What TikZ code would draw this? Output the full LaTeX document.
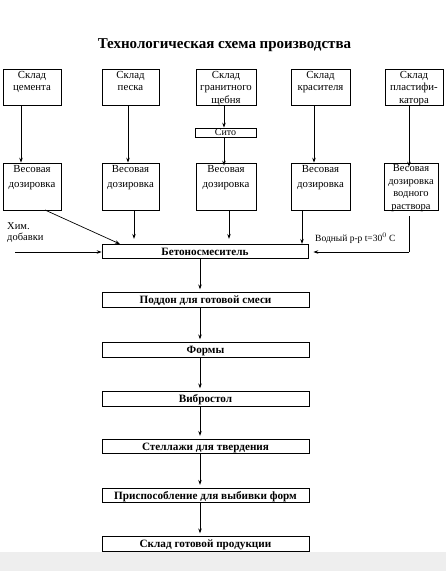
\documentclass[tikz,border=0pt]{standalone}
\usepackage{fontspec}
\setmainfont{Liberation Serif}
\usetikzlibrary{arrows.meta,calc}
\tikzset{
  box/.style={draw, line width=0.7pt, inner sep=0pt, font=\fontsize{10.8}{13.5}\selectfont},
  topboxstyle/.style={box, font=\fontsize{10.8}{12.8}\selectfont},
  chainbox/.style={draw, line width=0.7pt, inner sep=0pt, minimum width=207pt, minimum height=14.5pt, text height=9pt, text depth=1.4pt, font=\bfseries\fontsize{11.2}{13}\selectfont},
  arr/.style={line width=0.7pt, -{Stealth[length=5pt,width=3.5pt]}},
  ln/.style={line width=0.7pt},
  lbl/.style={inner sep=0pt, font=\fontsize{9.5}{11.5}\selectfont}
}
\newcommand\topbox[3]{\parbox[c][#2][t]{#1}{\centering\vspace*{2pt}#3\par}}
\begin{document}
\begin{tikzpicture}[x=1pt,y=-1pt]
\useasboundingbox (0,0) rectangle (446,571);
\fill[gray!13] (0,552) rectangle (446,571);
\node[inner sep=0pt, font=\bfseries\fontsize{15}{17}\selectfont] (title) at (224.5,45) {Технологическая схема производства};
% top row
\node[topboxstyle] (s1) at (32,87) {\topbox{58pt}{36pt}{Склад\\цемента}};
\node[topboxstyle] (s2) at (130.5,87) {\topbox{57pt}{36pt}{Склад\\песка}};
\node[topboxstyle] (s3) at (226,87) {\topbox{60pt}{36pt}{Склад\\гранитного\\щебня}};
\node[topboxstyle] (s4) at (320.5,87) {\topbox{59pt}{36pt}{Склад\\красителя}};
\node[topboxstyle] (s5) at (414,87) {\topbox{58pt}{36pt}{Склад\\пластифи-\\катора}};
\node[box, minimum width=61pt, minimum height=9pt, text height=7.5pt, text depth=1.5pt, font=\fontsize{10}{12}\selectfont] (sito) at (225.5,132.5) {Сито};
% second row
\node[box] (d1) at (32,186.5) {\topbox{58pt}{47pt}{Весовая\\[1.5pt]дозировка}};
\node[box] (d2) at (130.5,186.5) {\topbox{57pt}{47pt}{Весовая\\[1.5pt]дозировка}};
\node[box] (d3) at (226,186.5) {\topbox{60pt}{47pt}{Весовая\\[1.5pt]дозировка}};
\node[box] (d4) at (320.5,186.5) {\topbox{59pt}{47pt}{Весовая\\[1.5pt]дозировка}};
\node[box, font=\fontsize{10.5}{12.4}\selectfont] (d5) at (411,186.5) {\topbox{54pt}{47pt}{Весовая\\дозировка\\водного\\раствора}};
% mixer and chain
\node[chainbox, minimum width=206pt] (mix) at (205,251.5) {Бетоносмеситель};
\node[chainbox] (p1) at (205.5,300) {Поддон для готовой смеси};
\node[chainbox] (p2) at (205.5,350) {Формы};
\node[chainbox] (p3) at (205.5,399) {Вибростол};
\node[chainbox] (p4) at (205.5,446.5) {Стеллажи для твердения};
\node[chainbox] (p5) at (205.5,495.5) {Приспособление для выбивки форм};
\node[chainbox] (p6) at (205.5,544) {Склад готовой продукции};
% labels
\node[lbl, anchor=north west, align=left, font=\fontsize{10.5}{11.5}\selectfont] (chem) at (7,222) {Хим.\\добавки};
\node[lbl, anchor=west] (water) at (315,238) {Водный р-р t=30$^0$ С};
% coordinates
\coordinate (cx) at (200,0);
\coordinate (chemstart) at (15,252);
\coordinate (d1out) at (45,210);
\coordinate (mixin1) at (120,244);
\coordinate (x2) at (134,0);
\coordinate (x3) at (229,0);
\coordinate (x4) at (302,0);
\coordinate (x5) at (409,0);
\coordinate (corner5) at (409,252);
% top -> second row
\draw[arr] (s1.south -| 21,0) -- (d1.north -| 21,0);
\draw[arr] (s2.south -| 128,0) -- (d2.north -| 128,0);
\draw[arr] (s3.south -| 224,0) -- (sito.north -| 224,0);
\draw[arr] (sito.south -| 224,0) -- ($(d3.north -| 224,0)+(0,3)$);
\draw[arr] (s4.south -| 314,0) -- (d4.north -| 314,0);
\draw[arr] (s5.south -| x5) -- ($(d5.north -| x5)+(0,4)$);
% second row -> mixer
\draw[arr] (d1out) -- (mixin1);
\draw[arr] (d2.south -| x2) -- ($(mix.north -| x2)+(0,-5)$);
\draw[arr] (d3.south -| x3) -- ($(mix.north -| x3)+(0,-5)$);
\draw[arr] (d4.south -| x4) -- (mix.north -| x4);
\draw[ln] ($(d5.south -| x5)+(0,6)$) -- (corner5);
\draw[arr] (corner5) -- ($(mix.east |- corner5)+(5,0)$);
\draw[arr] (chemstart) -- (mix.west |- chemstart);
% chain
\draw[arr] (mix.south -| cx) -- ($(p1.north -| cx)+(0,-3)$);
\draw[arr] (p1.south -| cx) -- ($(p2.north -| cx)+(0,-3)$);
\draw[arr] (p2.south -| cx) -- ($(p3.north -| cx)+(0,-3)$);
\draw[arr] (p3.south -| cx) -- ($(p4.north -| cx)+(0,-3)$);
\draw[arr] (p4.south -| cx) -- ($(p5.north -| cx)+(0,-3)$);
\draw[arr] (p5.south -| cx) -- ($(p6.north -| cx)+(0,-3)$);
\end{tikzpicture}
\end{document}
